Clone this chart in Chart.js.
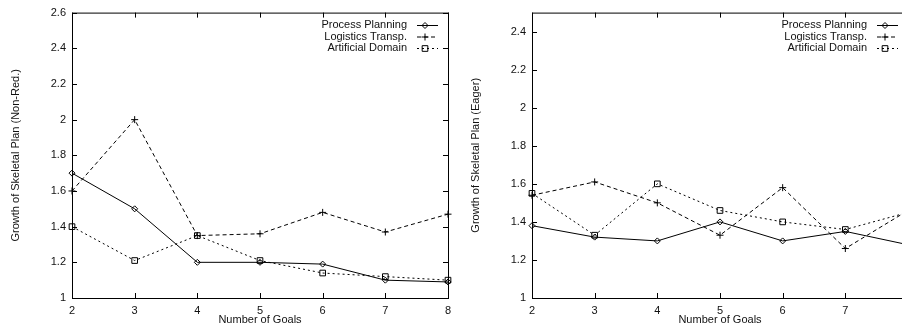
<!DOCTYPE html>
<html lang="en">
<head>
<meta charset="UTF-8">
<title>Growth of Skeletal Plan</title>
<style>
  html, body { margin: 0; padding: 0; background: #fff; overflow: hidden; }
  #wrap { position: relative; width: 902px; height: 331px; overflow: hidden; }
  canvas { position: absolute; top: 0; }
  #left { left: 0; }
  #right { left: 460px; }
</style>
<script src="https://cdn.jsdelivr.net/npm/chart.js"></script>
</head>
<body>
<div id="wrap">
  <canvas id="left" width="460" height="331"></canvas>
  <canvas id="right" width="460" height="331"></canvas>
</div>
<script>
var goals = [2, 3, 4, 5, 6, 7, 8];
var seriesNames = ['Process Planning', 'Logistics Transp.', 'Artificial Domain'];

// left plot: non-redundant
var nonRedProcess    = [1.70, 1.50, 1.20, 1.20, 1.19, 1.10, 1.09];
var nonRedLogistics  = [1.60, 2.00, 1.35, 1.36, 1.48, 1.37, 1.47];
var nonRedArtificial = [1.40, 1.21, 1.35, 1.21, 1.14, 1.12, 1.10];

// right plot: eager
var eagerProcess    = [1.38, 1.32, 1.30, 1.40, 1.30, 1.35, 1.28];
var eagerLogistics  = [1.54, 1.61, 1.50, 1.33, 1.58, 1.26, 1.46];
var eagerArtificial = [1.55, 1.33, 1.60, 1.46, 1.40, 1.36, 1.45];

var xTicks = [2, 3, 4, 5, 6, 7, 8];
var yTicksNonRed = [1, 1.2, 1.4, 1.6, 1.8, 2, 2.2, 2.4, 2.6];
var yTicksEager  = [1, 1.2, 1.4, 1.6, 1.8, 2, 2.2, 2.4];

var lineStyles = [
  { dash: [], point: 'rectRot', radius: 3 },
  { dash: [4, 3], point: 'cross', radius: 3.5 },
  { dash: [2, 3], point: 'rect', radius: 4 }
];

var FONT = { family: '"Liberation Sans", Arial, sans-serif', size: 11 };

function drawMarker(ctx, type, x, y, r) {
  ctx.beginPath();
  if (type === 'rectRot') {
    ctx.moveTo(x - r, y); ctx.lineTo(x, y - r); ctx.lineTo(x + r, y); ctx.lineTo(x, y + r); ctx.closePath();
  } else if (type === 'cross') {
    ctx.moveTo(x - r, y); ctx.lineTo(x + r, y); ctx.moveTo(x, y - r); ctx.lineTo(x, y + r);
  } else {
    var s = r * Math.SQRT1_2;
    ctx.rect(x - s, y - s, 2 * s, 2 * s);
  }
  ctx.stroke();
}

// gnuplot-like frame: full box, inward ticks on all sides, key in the top right
var gnuplotFrame = {
  id: 'gnuplotFrame',
  afterDraw: function (chart) {
    var ctx = chart.ctx, a = chart.chartArea;
    var xs = chart.scales.x, ys = chart.scales.y;
    var tl = 5;
    ctx.save();
    ctx.strokeStyle = '#000';
    ctx.lineWidth = 1;
    ctx.setLineDash([]);
    ctx.strokeRect(a.left + 0.5, a.top + 0.5, a.right - a.left, a.bottom - a.top);
    ctx.beginPath();
    xs.ticks.forEach(function (t) {
      var px = Math.round(xs.getPixelForValue(t.value)) + 0.5;
      ctx.moveTo(px, a.bottom); ctx.lineTo(px, a.bottom - tl);
      ctx.moveTo(px, a.top); ctx.lineTo(px, a.top + tl);
    });
    ys.ticks.forEach(function (t) {
      var py = Math.round(ys.getPixelForValue(t.value)) + 0.5;
      ctx.moveTo(a.left, py); ctx.lineTo(a.left + tl, py);
      ctx.moveTo(a.right, py); ctx.lineTo(a.right - tl, py);
    });
    ctx.stroke();

    // key
    ctx.font = FONT.size + 'px ' + FONT.family;
    ctx.fillStyle = '#111';
    ctx.textAlign = 'right';
    ctx.textBaseline = 'middle';
    chart.data.datasets.forEach(function (ds, i) {
      var y = 25 + i * 11.5;
      var tx = a.right - 41;
      ctx.fillText(ds.label, tx, y);
      ctx.setLineDash(ds.borderDash || []);
      ctx.beginPath();
      ctx.moveTo(tx + 10, y + 0.5); ctx.lineTo(tx + 31, y + 0.5);
      ctx.stroke();
      ctx.setLineDash([]);
      drawMarker(ctx, ds.pointStyle, tx + 18, y + 0.5, ds.pointRadius);
    });
    ctx.restore();
  }
};

function makeChart(id, series, yTicks, yMax, yTitle, clip) {
  var datasets = series.map(function (vals, i) {
    var st = lineStyles[i];
    return {
      label: seriesNames[i],
      data: goals.map(function (g, k) { return { x: g, y: vals[k] }; }),
      borderColor: '#000',
      borderWidth: 1,
      borderDash: st.dash,
      pointStyle: st.point,
      pointRadius: st.radius,
      pointBorderWidth: 1,
      pointBorderColor: '#000',
      pointBackgroundColor: 'rgba(0,0,0,0)',
      tension: 0,
      fill: false,
      clip: clip
    };
  });
  return new Chart(document.getElementById(id), {
    type: 'line',
    data: { datasets: datasets },
    options: {
      responsive: false,
      animation: false,
      devicePixelRatio: 1,
      layout: { padding: { left: 0, top: 9, right: 12, bottom: 0 } },
      plugins: { legend: { display: false }, tooltip: { enabled: false } },
      scales: {
        x: {
          type: 'linear',
          min: xTicks[0], max: xTicks[xTicks.length - 1],
          afterBuildTicks: function (s) { s.ticks = xTicks.map(function (v) { return { value: v }; }); },
          afterFit: function (s) { s.height = 33; },
          grid: { display: false, drawTicks: false },
          border: { display: false },
          ticks: { color: '#111', font: FONT, padding: 6, maxRotation: 0, autoSkip: false },
          title: { display: true, text: 'Number of Goals', color: '#111', font: FONT, padding: { top: 0, bottom: 4 } }
        },
        y: {
          type: 'linear',
          min: 1, max: yMax,
          afterBuildTicks: function (s) { s.ticks = yTicks.map(function (v) { return { value: v }; }); },
          afterFit: function (s) { s.width = 72; },
          grid: { display: false, drawTicks: false },
          border: { display: false },
          ticks: { color: '#111', font: FONT, padding: 6, callback: function (v) { return String(Math.round(v * 10) / 10); } },
          title: { display: true, text: yTitle, color: '#111', font: FONT, padding: { top: 9, bottom: 0 } }
        }
      }
    },
    plugins: [gnuplotFrame]
  });
}

makeChart('left', [nonRedProcess, nonRedLogistics, nonRedArtificial], yTicksNonRed, 2.6,
  'Growth of Skeletal Plan (Non-Red.)', 8);
makeChart('right', [eagerProcess, eagerLogistics, eagerArtificial], yTicksEager, 2.5,
  'Growth of Skeletal Plan (Eager)', false);
</script>
</body>
</html>
